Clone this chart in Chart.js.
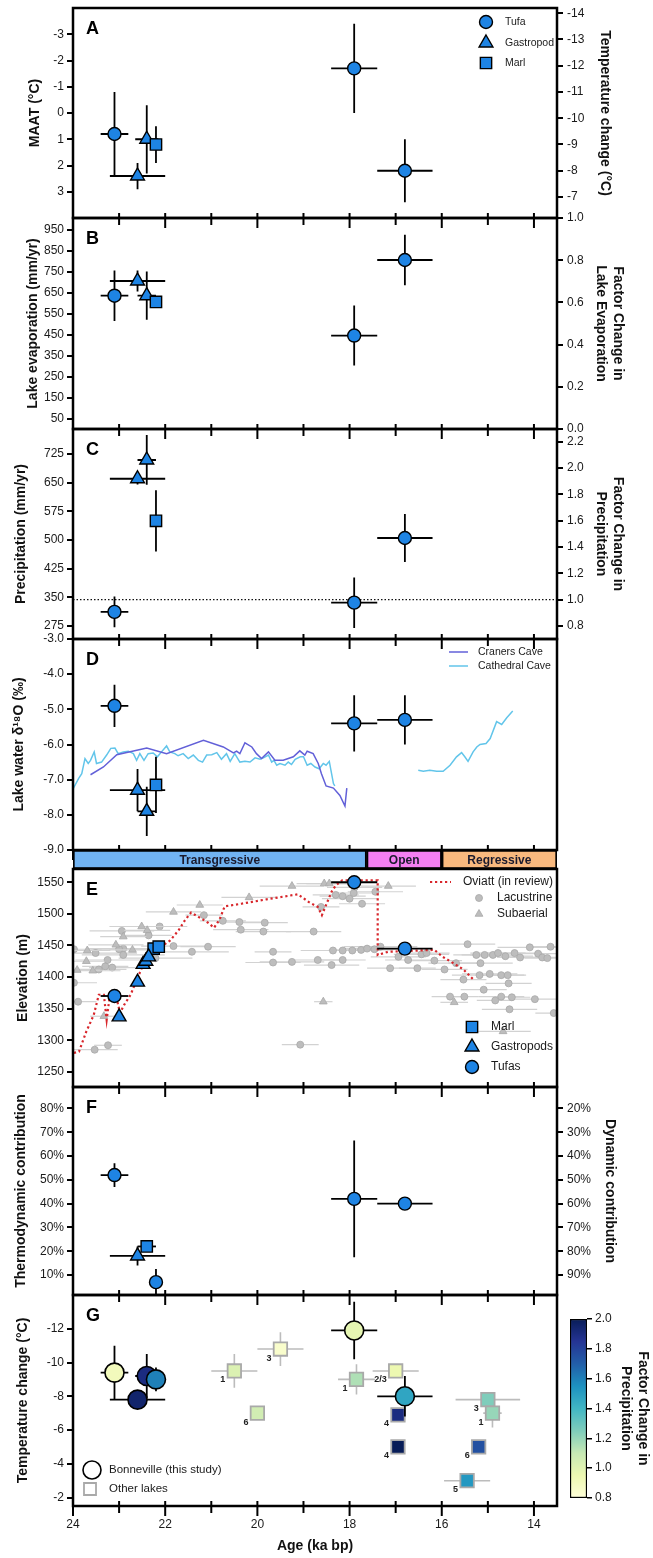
<!DOCTYPE html>
<html>
<head>
<meta charset="utf-8">
<title>Lake Bonneville paleoclimate</title>
<script src="https://cdn.jsdelivr.net/npm/chart.js@4.4.1/dist/chart.umd.min.js"></script>
<style>
  body { margin: 0; background: #fff; width: 653px; height: 1558px; position: relative; overflow: hidden; }
  canvas { position: absolute; }
</style>
</head>
<body>
<script>
// ---- shared age axis (ka BP, reversed) ----
const AGE_MIN = 13.5, AGE_MAX = 24;
const ageTicks = [14, 15, 16, 17, 18, 19, 20, 21, 22, 23, 24];
const ageLabels = [24, 22, 20, 18, 16, 14];

// rows are [age, ±age, value, ±value]

// A: mean annual air temperature
const maatTufa   = [[23.1, 0.3, 0.8, 1.6], [17.9, 0.5, -1.7, 1.7], [16.8, 0.6, 2.2, 1.2]];
const maatGastro = [[22.6, 0.6, 2.4, 0.5], [22.4, 0.25, 1.0, 1.3]];
const maatMarl   = [[22.2, 0, 1.2, 0.7]];
const maatTicks = [-3, -2, -1, 0, 1, 2, 3];
const tempChangeTicks = [-14, -13, -12, -11, -10, -9, -8, -7];
const maatOffset = 10.2; // temperature change = MAAT - 10.2

// B: lake evaporation (mm/yr)
const evapTufa   = [[23.1, 0.3, 635, 120], [17.9, 0.5, 445, 143], [16.8, 0.6, 805, 120]];
const evapGastro = [[22.6, 0.6, 705, 50], [22.4, 0.2, 635, 115]];
const evapMarl   = [[22.2, 0, 605, 0]];
const evapTicks = [50, 150, 250, 350, 450, 550, 650, 750, 850, 950];
const evapFactorTicks = [0, 0.2, 0.4, 0.6, 0.8, 1.0];
const modernEvap = 1005;

// C: precipitation (mm/yr)
const precipTufa   = [[23.1, 0.3, 312, 40], [17.9, 0.5, 336, 66], [16.8, 0.6, 505, 63]];
const precipGastro = [[22.6, 0.6, 660, 15], [22.4, 0.2, 709, 65]];
const precipMarl   = [[22.2, 0, 550, 80]];
const precipTicks = [275, 350, 425, 500, 575, 650, 725];
const precipFactorTicks = [0.8, 1.0, 1.2, 1.4, 1.6, 1.8, 2.0, 2.2];
const modernPrecip = 344;

// D: lake water d18O and cave records
const d18oTufa   = [[23.1, 0.3, -4.9, 0.6], [17.9, 0.5, -5.4, 0.8], [16.8, 0.6, -5.3, 0.7]];
const d18oGastro = [[22.6, 0.6, -7.3, 0.6], [22.4, 0.2, -7.9, 0.7]];
const d18oMarl   = [[22.2, 0, -7.15, 0.8]];
const d18oTicks = [-9, -8, -7, -6, -5, -4, -3];
const cranersAge = [23.62, 23.34, 23.05, 22.40, 21.97, 21.17, 20.74, 20.52, 20.45, 20.38, 20.27, 20.12, 20.02, 19.91, 19.76,
  19.62, 19.44, 19.22, 19.08, 18.97, 18.92, 18.79, 18.68, 18.61, 18.51, 18.35, 18.21, 18.10, 18.06];
const cranersD18O = [-6.86, -6.64, -6.29, -6.10, -6.26, -5.88, -6.07, -6.24, -6.19, -6.26, -5.95, -6.07, -6.26, -6.40, -6.21,
  -6.45, -6.45, -6.35, -6.18, -6.30, -6.19, -6.26, -6.54, -6.83, -7.18, -7.24, -7.45, -7.75, -7.24];
const cathedralAge = [23.99, 23.88, 23.81, 23.74, 23.67, 23.62, 23.54, 23.49, 23.38, 23.27, 23.18, 23.09, 23.02, 22.91, 22.80,
  22.69, 22.62, 22.55, 22.46, 22.37, 22.26, 22.17, 22.08, 21.97, 21.90, 21.79, 21.72, 21.61, 21.50, 21.39, 21.28, 21.19, 21.10,
  20.99, 20.88, 20.78, 20.67, 20.59, 20.49, 20.38, 20.27, 20.16, 20.05, 19.94, 19.87, 19.76, 19.69, 19.64, 19.58, 19.51, 19.40,
  19.33, 19.26, 19.18, 19.07, 19.00, 18.92, 18.84, 18.75, 18.66, 18.57, 18.51, 18.44, 18.35, 18.32];
const cathedralD18O = [-7.24, -6.97, -6.83, -6.40, -6.54, -6.45, -6.21, -6.54, -6.50, -6.30, -6.11, -6.10, -6.26, -6.21, -6.19,
  -6.26, -6.45, -6.26, -6.45, -6.26, -6.24, -6.35, -6.21, -6.04, -6.21, -6.26, -6.32, -6.26, -6.40, -6.30, -6.45, -6.50, -6.30,
  -6.29, -6.23, -6.42, -6.26, -6.48, -6.26, -6.50, -6.48, -6.50, -6.38, -6.42, -6.38, -6.30, -6.50, -6.45, -6.59, -6.54, -6.59,
  -6.50, -6.57, -6.42, -6.35, -6.35, -6.59, -6.54, -6.64, -6.69, -6.54, -6.59, -6.48, -7.11, -7.18];
const cathedralLateAge = [16.51, 16.40, 16.26, 16.11, 15.97, 15.82, 15.68, 15.57, 15.50, 15.43, 15.32, 15.24, 15.17, 15.04,
  14.95, 14.81, 14.70, 14.59, 14.46];
const cathedralLateD18O = [-6.73, -6.76, -6.73, -6.76, -6.76, -6.59, -6.35, -6.23, -6.35, -6.48, -6.21, -6.07, -6.00, -5.97,
  -5.83, -5.35, -5.43, -5.24, -5.05];

// lake phases
const phaseNames = ['Transgressive', 'Open', 'Regressive'];
const phaseStart = [24, 17.63, 16.0];
const phaseEnd = [17.63, 16.0, 13.5];

// E: elevation (m); gray rows are [age, ±age, elevation]
const elevTufa   = [[23.1, 0.3, 1370, 0], [17.9, 0.5, 1550, 0], [16.8, 0.6, 1445, 0]];
const elevGastro = [[23.0, 0, 1337, 0], [22.6, 0, 1392, 0], [22.48, 0, 1420, 0], [22.42, 0, 1425, 0], [22.36, 0, 1432, 0]];
const elevMarl   = [[22.25, 0, 1445, 0], [22.14, 0, 1448, 0]];
const elevTicks = [1250, 1300, 1350, 1400, 1450, 1500, 1550];
const lacustrine = [
  [23.98, 0.6, 1444], [23.98, 0.5, 1391], [23.89, 0.4, 1361], [23.51, 0.9, 1438], [23.44, 0.6, 1412], [23.30, 0.5, 1417],
  [23.25, 0.7, 1427], [23.15, 0.5, 1415], [23.24, 0.3, 1292], [23.53, 0.5, 1285], [22.94, 0.7, 1473], [22.91, 0.8, 1445],
  [23.00, 0.6, 1444], [22.91, 0.9, 1435], [22.36, 0.5, 1466], [22.12, 0.6, 1480], [22.21, 0.8, 1430], [21.82, 0.7, 1449],
  [21.42, 0.8, 1440], [21.16, 0.4, 1498], [21.07, 0.6, 1448], [20.75, 0.5, 1489], [20.39, 0.5, 1487], [20.36, 0.6, 1475],
  [19.84, 0.5, 1486], [19.87, 0.6, 1472], [19.66, 0.4, 1440], [19.66, 0.6, 1423], [19.25, 0.7, 1424], [18.78, 0.6, 1472],
  [18.69, 0.5, 1427], [18.39, 0.6, 1419], [18.36, 0.7, 1442], [18.15, 0.5, 1442], [18.15, 0.5, 1427], [17.94, 0.6, 1442],
  [17.75, 0.7, 1443], [17.62, 0.5, 1445], [17.46, 0.6, 1444], [17.33, 0.8, 1448], [17.12, 0.5, 1414], [16.94, 0.6, 1432],
  [16.73, 0.5, 1427], [16.53, 0.4, 1414], [16.44, 0.6, 1436], [16.33, 0.5, 1438], [16.16, 0.6, 1426], [15.94, 0.5, 1412],
  [15.69, 0.6, 1422], [15.53, 0.5, 1396], [15.44, 0.6, 1452], [15.25, 0.5, 1435], [15.16, 0.7, 1422], [15.18, 0.6, 1403],
  [15.07, 0.5, 1435], [14.96, 0.6, 1405], [14.89, 0.5, 1435], [14.78, 0.6, 1438], [14.71, 0.5, 1403], [14.62, 0.6, 1433],
  [14.57, 0.4, 1403], [14.55, 0.5, 1390], [14.42, 0.6, 1438], [14.30, 0.5, 1431], [14.09, 0.7, 1447], [13.91, 0.5, 1437],
  [13.82, 0.4, 1431], [13.71, 0.5, 1430], [13.64, 0.4, 1448], [15.82, 0.4, 1369], [15.51, 0.3, 1369], [15.09, 0.5, 1380],
  [14.84, 0.4, 1363], [14.71, 0.5, 1369], [14.48, 0.4, 1368], [14.53, 0.6, 1349], [13.98, 0.5, 1365], [13.57, 0.4, 1343],
  [19.07, 0.4, 1293], [17.89, 0.6, 1542], [18.15, 0.5, 1528], [18.00, 0.6, 1524], [17.91, 0.4, 1533], [17.73, 0.5, 1516],
  [17.44, 0.6, 1535], [18.62, 0.4, 1511], [18.30, 0.5, 1530]
];
const subaerial = [
  [23.91, 0.5, 1411], [23.71, 0.4, 1425], [23.69, 0.5, 1442], [23.57, 0.6, 1410], [23.33, 0.3, 1338], [23.07, 0.6, 1451],
  [22.91, 0.5, 1464], [22.71, 0.5, 1443], [22.51, 0.7, 1480], [22.39, 0.5, 1474], [21.82, 0.6, 1503], [21.25, 0.5, 1514],
  [20.18, 0.6, 1526], [19.25, 0.7, 1544], [18.55, 0.6, 1548], [18.44, 0.5, 1548], [17.16, 0.6, 1544], [18.57, 0.2, 1361],
  [15.73, 0.3, 1360], [14.67, 0.6, 1314]
];
const oviattAge = [23.98, 23.87, 23.71, 23.55, 23.44, 23.33, 23.27, 23.20, 23.07, 22.98, 22.89, 22.75, 22.62, 22.48, 22.35,
  22.21, 22.03, 21.89, 21.71, 21.57, 21.44, 21.25, 21.07, 20.94, 20.82, 20.71, 20.35, 19.80, 19.12, 18.89, 18.69, 18.60, 18.51,
  18.39, 18.30, 18.16, 17.39, 17.39, 17.16, 16.16, 15.98, 15.75, 15.53, 15.30];
const oviattElev = [1280, 1282, 1314, 1340, 1372, 1372, 1332, 1372, 1372, 1343, 1356, 1372, 1395, 1419, 1433, 1443, 1451,
  1458, 1474, 1490, 1502, 1494, 1486, 1478, 1491, 1512, 1516, 1523, 1531, 1519, 1511, 1498, 1514, 1535, 1545, 1553, 1553,
  1435, 1440, 1443, 1432, 1422, 1412, 1395];

// F: thermodynamic contribution (%)
const thermoTufa   = [[23.1, 0.3, 52, 5], [22.2, 0, 7, 5.5], [17.9, 0.5, 42, 24.5], [16.8, 0.6, 40, 0]];
const thermoGastro = [[22.6, 0.6, 18, 4]];
const thermoMarl   = [[22.4, 0.2, 22, 0]];
const thermoTicks = [10, 20, 30, 40, 50, 60, 70, 80];
const dynamicTicks = [20, 30, 40, 50, 60, 70, 80, 90];

// G: temperature change; rows are [age, ±age, dT, ±dT, precipitation factor(, lake id)]
const gBonneville = [[23.1, 0.3, -9.4, 1.6, 0.91], [22.6, 0.6, -7.8, 0.5, 1.95], [22.4, 0.25, -9.2, 1.3, 1.9],
  [22.2, 0, -9.0, 0.7, 1.6], [17.9, 0.5, -11.9, 1.7, 0.98], [16.8, 0.6, -8.0, 1.2, 1.47]];
const gOtherLakes = [[20.5, 0.5, -9.5, 1.0, 1.02, '1'], [19.5, 0.5, -10.8, 1.0, 0.85, '3'], [20.0, 0, -7.0, 0, 1.06, '6'],
  [17.85, 0.4, -9.0, 0.9, 1.15, '1'], [17.0, 0.5, -9.5, 0.4, 0.95, '2/3'], [16.95, 0, -6.9, 0, 1.9, '4'],
  [16.95, 0, -5.0, 0, 2.0, '4'], [15.0, 0.7, -7.8, 0.4, 1.25, '3'], [14.9, 0.2, -7.0, 0.85, 1.2, '1'],
  [15.2, 0.15, -5.0, 0, 1.75, '6'], [15.45, 0.5, -3.0, 0, 1.52, '5']];
const gTempTicks = [-12, -10, -8, -6, -4, -2];
const colorbarTicks = [0.8, 1.0, 1.2, 1.4, 1.6, 1.8, 2.0];

// ---- styling ----
const W = 653;
const BLUE = '#1e84e4';
const FONT = "'Liberation Sans', Arial, Helvetica, sans-serif";
Chart.defaults.font.family = FONT;
Chart.defaults.color = '#1a1a1a';
const ylgnbu = ['#ffffd9', '#edf8b1', '#c7e9b4', '#7fcdbb', '#41b6c4', '#1d91c0', '#225ea8', '#253494', '#081d58'];

function hexToRgb(h) { const n = parseInt(h.slice(1), 16); return [n >> 16 & 255, n >> 8 & 255, n & 255]; }
function factorColor(f) {
  const t = Math.min(1, Math.max(0, (f - 0.8) / 1.2)) * (ylgnbu.length - 1);
  const i = Math.min(ylgnbu.length - 2, Math.floor(t)), u = t - i;
  const a = hexToRgb(ylgnbu[i]), b = hexToRgb(ylgnbu[i + 1]);
  return 'rgb(' + a.map((v, k) => Math.round(v + (b[k] - v) * u)).join(',') + ')';
}

const MARK = {
  circle: { pointStyle: 'circle', radius: 6.5 },
  triangle: { pointStyle: 'triangle', radius: 8 },
  rect: { pointStyle: 'rect', radius: 8 }
};

function markers(rows, kind, extra) {
  return Object.assign({
    data: rows.map(r => ({ x: r[0], y: r[2] })),
    errors: rows.map(r => ({ x: r[1], y: r[3] || 0 })),
    pointStyle: MARK[kind].pointStyle, pointRadius: MARK[kind].radius,
    backgroundColor: BLUE, borderColor: '#000', borderWidth: 1.4,
    errorColor: '#000', errorWidth: 1.8
  }, extra);
}
function trace(ages, vals, color, extra) {
  return Object.assign({
    data: ages.map((a, i) => ({ x: a, y: vals[i] })),
    showLine: true, pointRadius: 0, borderColor: color, borderWidth: 1.5, fill: false
  }, extra);
}

const decorSpecs = new WeakMap();

function addCanvas(left, top, w, h) {
  const c = document.createElement('canvas');
  c.width = w; c.height = h;
  c.style.left = left + 'px'; c.style.top = top + 'px';
  c.style.width = w + 'px'; c.style.height = h + 'px';
  document.body.appendChild(c);
  return c;
}

// error bars under each dataset, number tags after it
Chart.register({
  id: 'errorBars',
  beforeDatasetDraw(chart, args) {
    const ds = chart.data.datasets[args.index];
    if (!ds.errors) return;
    const xs = chart.scales[args.meta.xAxisID], ys = chart.scales[args.meta.yAxisID];
    const a = chart.chartArea, ctx = chart.ctx;
    ctx.save();
    ctx.beginPath(); ctx.rect(a.left, a.top, a.right - a.left, a.bottom - a.top); ctx.clip();
    ctx.strokeStyle = ds.errorColor; ctx.lineWidth = ds.errorWidth;
    ds.data.forEach((p, i) => {
      const e = ds.errors[i];
      const cx = xs.getPixelForValue(p.x), cy = ys.getPixelForValue(p.y);
      ctx.beginPath();
      if (e.x) { ctx.moveTo(xs.getPixelForValue(p.x - e.x), cy); ctx.lineTo(xs.getPixelForValue(p.x + e.x), cy); }
      if (e.y) { ctx.moveTo(cx, ys.getPixelForValue(p.y - e.y)); ctx.lineTo(cx, ys.getPixelForValue(p.y + e.y)); }
      ctx.stroke();
    });
    ctx.restore();
  },
  afterDatasetDraw(chart, args) {
    const ds = chart.data.datasets[args.index];
    if (!ds.pointLabels) return;
    const ctx = chart.ctx;
    ctx.save();
    ctx.font = 'bold 9px ' + FONT; ctx.fillStyle = '#222';
    ctx.textAlign = 'right'; ctx.textBaseline = 'middle';
    args.meta.data.forEach((el, i) => ctx.fillText(ds.pointLabels[i], el.x - 9, el.y + 9));
    ctx.restore();
  }
});

// frame, age ticks, panel letter and legend
Chart.register({
  id: 'decor',
  afterDraw(chart) {
    const spec = decorSpecs.get(chart.canvas);
    if (!spec) return;
    const ctx = chart.ctx, a = chart.chartArea, top = spec.top;
    ctx.save();
    if (spec.frame) {
      ctx.strokeStyle = '#000'; ctx.lineWidth = 2.5;
      ctx.strokeRect(a.left, a.top, a.right - a.left, a.bottom - a.top);
      ctx.lineWidth = 2;
      const xs = chart.scales.x;
      ageTicks.forEach(t => {
        const px = xs.getPixelForValue(t), major = t % 2 === 0;
        ctx.beginPath();
        ctx.moveTo(px, a.bottom - 5);
        ctx.lineTo(px, a.bottom + (major ? 10 : 7));
        ctx.stroke();
      });
    }
    if (spec.letter) {
      ctx.fillStyle = '#000'; ctx.font = 'bold 18px ' + FONT;
      ctx.textAlign = 'left'; ctx.textBaseline = 'alphabetic';
      ctx.fillText(spec.letter, a.left + 13, a.top + 26);
    }
    (spec.legend || []).forEach(it => {
      const y = it.y - top;
      if (it.line) {
        ctx.strokeStyle = it.color; ctx.lineWidth = it.width || 1.5;
        ctx.setLineDash(it.dash || []);
        ctx.beginPath(); ctx.moveTo(it.line[0], y); ctx.lineTo(it.line[1], y); ctx.stroke();
        ctx.setLineDash([]);
      }
      if (it.marker) {
        ctx.fillStyle = it.fill; ctx.strokeStyle = it.stroke; ctx.lineWidth = it.bw;
        Chart.helpers.drawPoint(ctx, { pointStyle: it.marker, radius: it.r, rotation: 0, borderWidth: it.bw }, it.x, y);
      }
      if (it.text) {
        ctx.fillStyle = '#1a1a1a'; ctx.font = (it.size || 12) + 'px ' + FONT;
        ctx.textAlign = 'left'; ctx.textBaseline = 'middle';
        ctx.fillText(it.text, it.tx, y);
      }
    });
    ctx.restore();
  }
});

function ageAxis() {
  return { type: 'linear', min: AGE_MIN, max: AGE_MAX, reverse: true, display: false };
}
function yAxis(side, range, ticks, title, titlePad, fmt, reverse) {
  return {
    type: 'linear', position: side, min: range[0], max: range[1], reverse: !!reverse,
    afterFit: s => { s.width = side === 'left' ? 73 : 96; },
    afterBuildTicks: s => { s.ticks = ticks.map(v => ({ value: v })); },
    grid: { drawOnChartArea: false, drawTicks: true, tickLength: 6, color: '#000', lineWidth: 2 },
    border: { display: false },
    ticks: { padding: side === 'left' ? 3 : 4, font: { size: 12 }, color: '#1a1a1a', callback: fmt || (v => String(v)) },
    title: { display: true, text: title, color: '#111', font: { size: 14, weight: 'bold' }, padding: { top: titlePad, bottom: 0 } }
  };
}
const fixed1 = v => v.toFixed(1);
const pct = v => v + '%';

function panel(p) {
  const padTop = 12, padBottom = p.padBottom || 12;
  const canvasTop = p.top - padTop;
  const canvas = addCanvas(0, canvasTop, W, p.bottom - p.top + padTop + padBottom);
  decorSpecs.set(canvas, { top: canvasTop, frame: true, letter: p.letter, legend: p.legend });
  const scales = { x: p.x || ageAxis(), y: p.y };
  if (p.y2) scales.y2 = p.y2;
  return new Chart(canvas, {
    type: 'scatter',
    data: { datasets: p.datasets },
    options: {
      responsive: false, animation: false, events: [],
      layout: { padding: { top: padTop, bottom: p.x ? 2 : padBottom, left: 0, right: p.y2 ? 0 : 96 } },
      scales,
      plugins: { legend: { display: false }, tooltip: { enabled: false } }
    }
  });
}

function blueSets(tufa, gastro, marl) {
  return [markers(marl, 'rect'), markers(gastro, 'triangle'), markers(tufa, 'circle')];
}

// ---- A ----
panel({
  top: 8, bottom: 218, letter: 'A',
  y: yAxis('left', [-4, 4], maatTicks, 'MAAT (°C)', 26.6, null, true),
  y2: yAxis('right', [-4 - maatOffset, 4 - maatOffset], tempChangeTicks, 'Temperature change (°C)', 39.6, null, true),
  datasets: blueSets(maatTufa, maatGastro, maatMarl),
  legend: [
    { marker: 'circle', r: 6.5, fill: BLUE, stroke: '#000', bw: 1.4, x: 486, y: 22, text: 'Tufa', tx: 505, size: 10.5 },
    { marker: 'triangle', r: 8, fill: BLUE, stroke: '#000', bw: 1.4, x: 486, y: 43, text: 'Gastropod', tx: 505, size: 10.5 },
    { marker: 'rect', r: 8, fill: BLUE, stroke: '#000', bw: 1.4, x: 486, y: 63, text: 'Marl', tx: 505, size: 10.5 }
  ]
});

// ---- B ----
panel({
  top: 218, bottom: 429, letter: 'B',
  y: yAxis('left', [0, modernEvap], evapTicks, 'Lake evaporation (mm/yr)', 24.6),
  y2: yAxis('right', [0, 1], evapFactorTicks, ['Factor Change in', 'Lake Evaporation'], 26.6, fixed1),
  datasets: blueSets(evapTufa, evapGastro, evapMarl)
});

// ---- C ----
panel({
  top: 429, bottom: 639, letter: 'C',
  y: yAxis('left', [241, 790], precipTicks, 'Precipitation (mm/yr)', 12.6),
  y2: yAxis('right', [241 / modernPrecip, 790 / modernPrecip], precipFactorTicks, ['Factor Change in', 'Precipitation'], 26.6, fixed1),
  datasets: blueSets(precipTufa, precipGastro, precipMarl).concat([
    trace([AGE_MAX, AGE_MIN], [modernPrecip, modernPrecip], '#111', { borderWidth: 1.2, borderDash: [1.5, 2] })
  ])
});

// ---- D ----
panel({
  top: 639, bottom: 850, letter: 'D',
  y: yAxis('left', [-9, -3], d18oTicks, 'Lake water δ¹⁸O (‰)', 10.6, fixed1),
  datasets: blueSets(d18oTufa, d18oGastro, d18oMarl).concat([
    trace(cranersAge, cranersD18O, '#6260d8'),
    trace(cathedralAge, cathedralD18O, '#62c5ea'),
    trace(cathedralLateAge, cathedralLateD18O, '#62c5ea')
  ]),
  legend: [
    { line: [449, 468], color: '#6260d8', y: 652, text: 'Craners Cave', tx: 478, size: 10.5 },
    { line: [449, 468], color: '#62c5ea', y: 666, text: 'Cathedral Cave', tx: 478, size: 10.5 }
  ]
});

// ---- lake phases ----
(function () {
  const canvas = addCanvas(0, 848, W, 23);
  new Chart(canvas, {
    type: 'bar',
    data: {
      labels: ['phase'],
      datasets: phaseNames.map((n, i) => ({
        label: n, data: [[phaseStart[i], phaseEnd[i]]],
        backgroundColor: ['#71b3f2', '#f47ff2', '#f9b97e'][i],
        borderColor: '#000', borderWidth: 2, borderSkipped: false,
        grouped: false, barPercentage: 1, categoryPercentage: 1
      }))
    },
    options: {
      indexAxis: 'y', responsive: false, animation: false, events: [],
      layout: { padding: { top: 2, bottom: 2, left: 73, right: 96 } },
      scales: { x: ageAxis(), y: { type: 'category', display: false } },
      plugins: { legend: { display: false }, tooltip: { enabled: false } }
    },
    plugins: [{
      id: 'phaseNames',
      afterDatasetsDraw(chart) {
        const ctx = chart.ctx;
        ctx.save();
        ctx.font = 'bold 12px ' + FONT; ctx.fillStyle = '#1b1b2e';
        ctx.textAlign = 'center'; ctx.textBaseline = 'middle';
        chart.data.datasets.forEach((ds, i) => {
          const el = chart.getDatasetMeta(i).data[0];
          ctx.fillText(ds.label, (el.x + el.base) / 2, el.y + 1);
        });
        ctx.restore();
      }
    }]
  });
})();

// ---- E ----
const grayPoint = { backgroundColor: '#bdbdbd', borderColor: '#a8a8a8', borderWidth: 0.8, errorColor: '#d2d2d2', errorWidth: 1.2 };
panel({
  top: 869, bottom: 1087, letter: 'E',
  y: yAxis('left', [1226, 1571], elevTicks, 'Elevation (m)', 14.6),
  datasets: [
    markers(elevTufa, 'circle'),
    markers(elevGastro, 'triangle'),
    markers(elevMarl, 'rect'),
    trace(oviattAge, oviattElev, '#d8262b', { borderWidth: 2.2, borderDash: [2.2, 2.8] }),
    Object.assign(markers(subaerial.map(r => [r[0], r[1], r[2], 0]), 'triangle'), grayPoint, { pointRadius: 4.5 }),
    Object.assign(markers(lacustrine.map(r => [r[0], r[1], r[2], 0]), 'circle'), grayPoint, { pointRadius: 3.5 })
  ],
  legend: [
    { line: [430, 451], color: '#d8262b', width: 2.2, dash: [2.2, 2.8], y: 882, text: 'Oviatt (in review)', tx: 463 },
    { marker: 'circle', r: 3.5, fill: '#bdbdbd', stroke: '#a8a8a8', bw: 0.8, x: 479, y: 898, text: 'Lacustrine', tx: 497 },
    { marker: 'triangle', r: 4.5, fill: '#bdbdbd', stroke: '#a8a8a8', bw: 0.8, x: 479, y: 914, text: 'Subaerial', tx: 497 },
    { marker: 'rect', r: 8, fill: BLUE, stroke: '#000', bw: 1.4, x: 472, y: 1027, text: 'Marl', tx: 491 },
    { marker: 'triangle', r: 8, fill: BLUE, stroke: '#000', bw: 1.4, x: 472, y: 1047, text: 'Gastropods', tx: 491 },
    { marker: 'circle', r: 6.5, fill: BLUE, stroke: '#000', bw: 1.4, x: 472, y: 1067, text: 'Tufas', tx: 491 }
  ]
});

// ---- F ----
panel({
  top: 1087, bottom: 1295, letter: 'F',
  y: yAxis('left', [1.6, 89], thermoTicks, 'Thermodynamic contribution', 12.6, pct),
  y2: yAxis('right', [100 - 89, 100 - 1.6], dynamicTicks, 'Dynamic contribution', 34.6, pct, true),
  datasets: blueSets(thermoTufa, thermoGastro, thermoMarl)
});

// ---- G ----
panel({
  top: 1295, bottom: 1506, padBottom: 52, letter: 'G',
  y: yAxis('left', [-14, -1.5], gTempTicks, 'Temperature change (°C)', 14.6, null, true),
  x: {
    type: 'linear', position: 'bottom', min: AGE_MIN, max: AGE_MAX, reverse: true,
    afterFit: s => { s.height = 50; },
    afterBuildTicks: s => { s.ticks = ageLabels.map(v => ({ value: v })); },
    grid: { display: false, drawTicks: false }, border: { display: false },
    ticks: { padding: 11, font: { size: 12 }, color: '#1a1a1a', maxRotation: 0, autoSkip: false },
    title: { display: true, text: 'Age (ka bp)', color: '#111', font: { size: 14, weight: 'bold' }, padding: { top: 0, bottom: 1 } }
  },
  datasets: [
    markers(gBonneville, 'circle', {
      pointRadius: 9.5, borderWidth: 1.6,
      backgroundColor: gBonneville.map(r => factorColor(r[4]))
    }),
    markers(gOtherLakes, 'rect', {
      pointRadius: 9.5, borderWidth: 1.8, borderColor: '#a9a9a9',
      backgroundColor: gOtherLakes.map(r => factorColor(r[4])),
      errorColor: '#bcbcbc', errorWidth: 1.6,
      pointLabels: gOtherLakes.map(r => r[5])
    })
  ],
  legend: [
    { marker: 'circle', r: 9, fill: '#fff', stroke: '#000', bw: 1.6, x: 92, y: 1470, text: 'Bonneville (this study)', tx: 109, size: 11.5 },
    { marker: 'rect', r: 8.5, fill: '#fff', stroke: '#a9a9a9', bw: 1.8, x: 90, y: 1489, text: 'Other lakes', tx: 109, size: 11.5 }
  ]
});

// ---- colour bar for precipitation factor ----
(function () {
  const canvas = addCanvas(560, 1307, 93, 203);
  new Chart(canvas, {
    type: 'bar',
    data: {
      labels: ['factor'],
      datasets: [{
        data: [[colorbarTicks[0], colorbarTicks[colorbarTicks.length - 1]]],
        backgroundColor(c) {
          const a = c.chart.chartArea;
          if (!a) return '#fff';
          const g = c.chart.ctx.createLinearGradient(0, a.bottom, 0, a.top);
          ylgnbu.forEach((col, i) => g.addColorStop(i / (ylgnbu.length - 1), col));
          return g;
        },
        borderColor: '#000', borderWidth: 1.5, borderSkipped: false,
        barPercentage: 1, categoryPercentage: 1
      }]
    },
    options: {
      responsive: false, animation: false, events: [],
      layout: { padding: { top: 12, bottom: 12, left: 10, right: 0 } },
      scales: {
        x: { type: 'category', display: false },
        y: {
          type: 'linear', position: 'right', min: 0.8, max: 2.0,
          afterFit: s => { s.width = 66; },
          afterBuildTicks: s => { s.ticks = colorbarTicks.map(v => ({ value: v })); },
          grid: { drawOnChartArea: false, drawTicks: true, tickLength: 5, color: '#000', lineWidth: 1.5 },
          border: { display: false },
          ticks: { padding: 3, font: { size: 12 }, color: '#1a1a1a', callback: fixed1 },
          title: { display: true, text: ['Factor Change in', 'Precipitation'], color: '#111', font: { size: 14, weight: 'bold' }, padding: { top: 1.6, bottom: 0 } }
        }
      },
      plugins: { legend: { display: false }, tooltip: { enabled: false } }
    }
  });
})();
</script>
</body>
</html>
